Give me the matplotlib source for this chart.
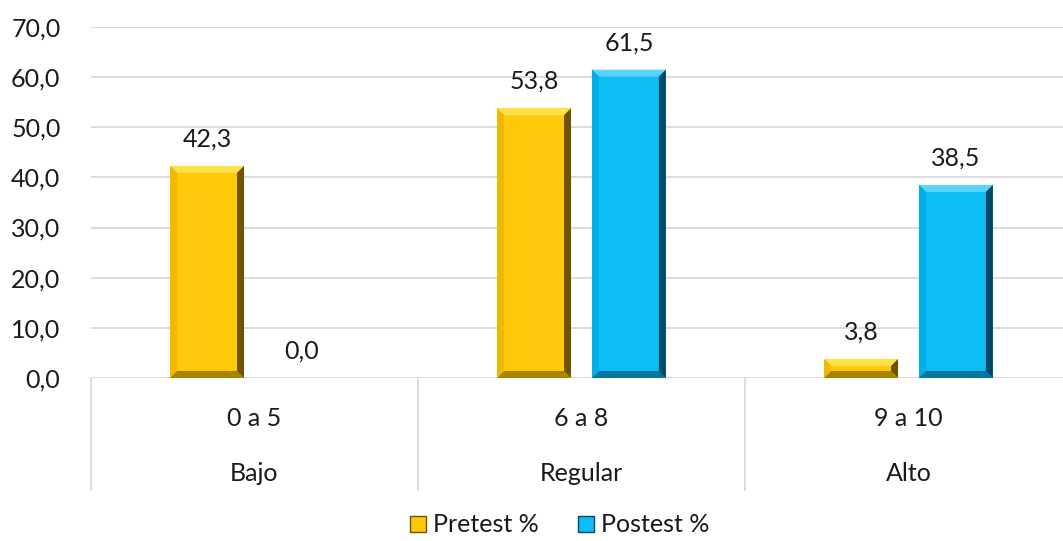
import numpy as np
import matplotlib.pyplot as plt
from matplotlib.patches import Polygon
from matplotlib.ticker import FuncFormatter
from matplotlib.lines import Line2D

plt.rcParams['font.family'] = ['Lato', 'DejaVu Sans']

rangos = ["0 a 5", "6 a 8", "9 a 10"]
niveles = ["Bajo", "Regular", "Alto"]
pretest = [42.3, 53.8, 3.8]
postest = [0.0, 61.5, 38.5]
series = ["Pretest %", "Postest %"]

# face, top bevel, left bevel, bottom bevel, right bevel
gold = ["#FFC90A", "#FFE14A", "#F0B800", "#A98400", "#6E5400"]
blue = ["#0DBDF5", "#5AD5FF", "#00ADE5", "#0077A3", "#004A68"]

FS = 18
TXT = "#1a1a1a"

W, H = 1063, 541
fig = plt.figure(figsize=(W / 100, H / 100), dpi=100)
ax = fig.add_axes([91 / W, 163 / H, (1072 - 91) / W, 351 / H])

ax.set_ylim(0, 70)
ax.set_xlim(-0.5, 2.5)
ax.set_yticks(np.arange(0, 71, 10))
ax.yaxis.set_major_formatter(FuncFormatter(lambda v, p: f"{v:.1f}".replace(".", ",")))
ax.tick_params(axis='y', length=0, pad=22, labelsize=FS, labelcolor=TXT)
ax.set_xticks([])
for s in ax.spines.values():
    s.set_visible(False)
ax.grid(axis='y', color="#d9d9d9", linewidth=1.3)
ax.set_axisbelow(True)

bw = 0.226
off = 0.145
x = np.arange(len(rangos))

# bevel size in data units (7 px)
bb = ax.get_window_extent()
bx = 7 * 3 / bb.width
by = 7 * 70 / bb.height


def bevel_bar(xc, h, cols):
    ax.bar(xc, h, bw, color=cols[0], edgecolor="none", zorder=2)
    if h <= 0:
        return
    x0, x1 = xc - bw / 2, xc + bw / 2
    d = min(by, h / 2)
    shapes = [
        ([(x0, h), (x1, h), (x1 - bx, h - d), (x0 + bx, h - d)], cols[1]),
        ([(x0, 0), (x0, h), (x0 + bx, h - d), (x0 + bx, d)], cols[2]),
        ([(x0, 0), (x1, 0), (x1 - bx, d), (x0 + bx, d)], cols[3]),
        ([(x1, 0), (x1, h), (x1 - bx, h - d), (x1 - bx, d)], cols[4]),
    ]
    for pts, c in shapes:
        ax.add_patch(Polygon(pts, closed=True, facecolor=c, edgecolor="none", zorder=3))


for i in range(len(rangos)):
    bevel_bar(x[i] - off, pretest[i], gold)
    bevel_bar(x[i] + off, postest[i], blue)
    for xc, v in [(x[i] - off, pretest[i]), (x[i] + off, postest[i])]:
        ax.annotate(f"{v:.1f}".replace(".", ","), (xc, v), xytext=(0, 11),
                    textcoords="offset points", ha="center", va="bottom",
                    fontsize=FS, color=TXT)

# two-level category axis
for i in range(len(rangos)):
    ax.text(x[i], -0.114, rangos[i], transform=ax.get_xaxis_transform(),
            ha="center", va="center", fontsize=FS, color=TXT)
    ax.text(x[i], -0.271, niveles[i], transform=ax.get_xaxis_transform(),
            ha="center", va="center", fontsize=FS, color=TXT)
for xs in [-0.5, 0.5, 1.5, 2.5]:
    ax.plot([xs, xs], [0, -0.32], transform=ax.get_xaxis_transform(),
            color="#d9d9d9", linewidth=1.3, clip_on=False)

handles = [Line2D([], [], marker="s", linestyle="none", markersize=11,
                  markerfacecolor=c[0], markeredgecolor=c[4]) for c in (gold, blue)]
fig.legend(handles, series, loc="center", bbox_to_anchor=(556 / W, 1 - 525 / H),
           ncol=2, frameon=False, fontsize=FS, handletextpad=0.0,
           handlelength=1.2, columnspacing=1.3, labelcolor=TXT)

fig.savefig("out.png", dpi=100)
